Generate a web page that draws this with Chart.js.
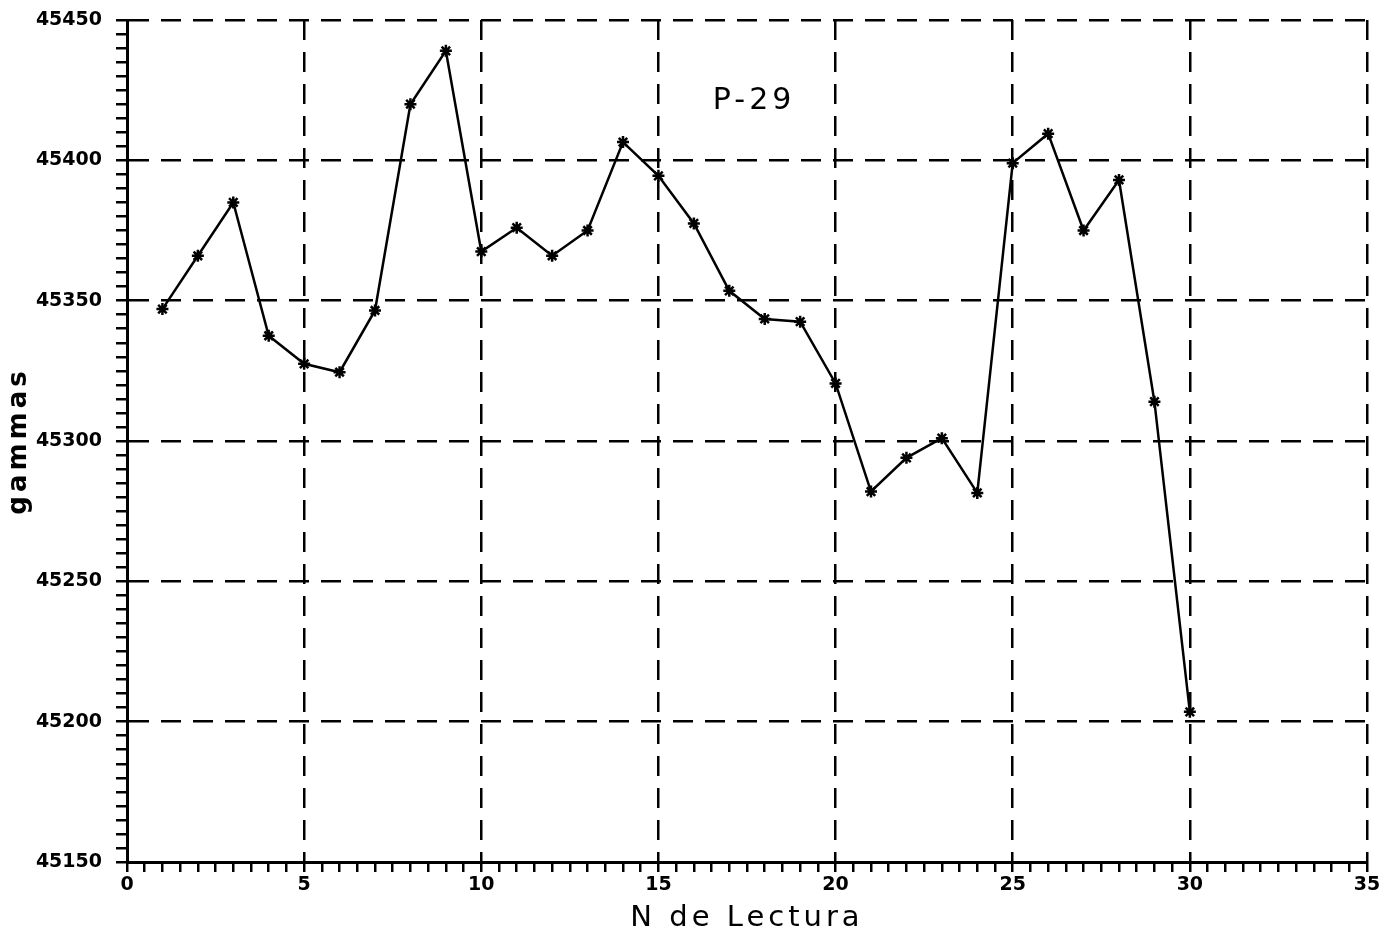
<!DOCTYPE html>
<html>
<head>
<meta charset="utf-8">
<script src="https://cdn.jsdelivr.net/npm/chart.js@4/dist/chart.umd.min.js"></script>
<style>
  html, body { margin: 0; padding: 0; background: #fff; }
  #wrap { width: 1397px; height: 936px; }
</style>
</head>
<body>
<div id="wrap"><canvas id="chart" width="1397" height="936"></canvas></div>
<script>
// reading number (N de Lectura)
const lecturas = [1, 2, 3, 4, 5, 6, 7, 8, 9, 10, 11, 12, 13, 14, 15,
                  16, 17, 18, 19, 20, 21, 22, 23, 24, 25, 26, 27, 28, 29, 30];
// magnetic field, gammas
const gammas = [45347, 45366, 45385, 45337.5, 45327.5, 45324.5, 45346.5, 45420, 45439, 45367.5,
                45376, 45366, 45375, 45406.5, 45394.5, 45377.5, 45353.5, 45343.5, 45342.5, 45320.5,
                45282, 45294, 45301, 45281.5, 45399, 45409.5, 45375, 45393, 45314, 45203.5];

const profileName = 'P-29';
const profileLabelAt = [17.7, 45421];

const xRange = [0, 35];
const yRange = [45150, 45450];
const xTitle = 'N de Lectura';
const yTitle = 'gammas';

const FONT = "'DejaVu Sans', sans-serif";

// plotter style text is spread out; Chart.js has no letter-spacing option
const spacedTitles = {
    id: 'spacedTitles',
    beforeDraw(chart) {
        Object.values(chart.scales).forEach(scale => {
            if (scale._spaced) return;
            const orig = scale.drawTitle;
            scale.drawTitle = function (area) {
                this.ctx.save();
                this.ctx.letterSpacing = '4px';
                orig.call(this, area);
                this.ctx.restore();
            };
            scale._spaced = true;
        });
    }
};

const profileLabel = {
    id: 'profileLabel',
    afterDatasetsDraw(chart) {
        const { ctx, scales } = chart;
        const px = scales.x.getPixelForValue(profileLabelAt[0]);
        const py = scales.y.getPixelForValue(profileLabelAt[1]);
        ctx.save();
        ctx.letterSpacing = '4px';
        ctx.font = `30px ${FONT}`;
        ctx.fillStyle = '#000';
        ctx.textAlign = 'center';
        ctx.textBaseline = 'middle';
        ctx.fillText(profileName, px, py);
        ctx.restore();
    }
};

const gridColor = step => ctx => (ctx.tick && Math.abs(ctx.tick.value % step) < 1e-6) ? '#000' : 'rgba(0,0,0,0)';

new Chart(document.getElementById('chart'), {
    type: 'line',
    data: {
        datasets: [{
            data: lecturas.map((n, i) => ({ x: n, y: gammas[i] })),
            borderColor: '#000',
            backgroundColor: '#000',
            borderWidth: 2.5,
            tension: 0,
            pointStyle: 'star',
            pointRadius: 6,
            pointBorderWidth: 2.5,
            pointBorderColor: '#000'
        }]
    },
    options: {
        responsive: false,
        animation: false,
        layout: { padding: { top: 20, right: 30, left: 0, bottom: 0 } },
        plugins: {
            legend: { display: false },
            tooltip: { enabled: false }
        },
        scales: {
            x: {
                type: 'linear',
                min: xRange[0],
                max: xRange[1],
                afterFit: s => { s.height = 74; },
                ticks: {
                    stepSize: 0.5,
                    autoSkip: false,
                    maxRotation: 0,
                    padding: 2,
                    color: '#000',
                    font: { family: FONT, size: 19, weight: 'bold' },
                    callback: v => (v % 5 === 0 ? v : '')
                },
                grid: {
                    color: gridColor(5),
                    lineWidth: 2.5,
                    tickColor: '#000',
                    tickLength: 10,
                    tickWidth: 2.5
                },
                border: { color: '#000', width: 3, dash: [20, 12] },
                title: {
                    display: true,
                    text: xTitle,
                    color: '#000',
                    font: { family: FONT, size: 29 },
                    padding: { top: 4, bottom: 0 }
                }
            },
            y: {
                type: 'linear',
                min: yRange[0],
                max: yRange[1],
                afterFit: s => { s.width = 127; s.paddingTop = 0; s.paddingBottom = 0; },
                ticks: {
                    stepSize: 5,
                    autoSkip: false,
                    padding: 14,
                    color: '#000',
                    font: { family: FONT, size: 19, weight: 'bold' },
                    callback: v => (v % 50 === 0 ? v : '')
                },
                grid: {
                    color: gridColor(50),
                    lineWidth: 2.5,
                    tickColor: '#000',
                    tickLength: 11,
                    tickWidth: 2.5
                },
                border: { color: '#000', width: 3, dash: [20, 12] },
                title: {
                    display: true,
                    text: yTitle,
                    color: '#000',
                    font: { family: FONT, size: 26, weight: 'bold' },
                    padding: { top: 4, bottom: 0 }
                }
            }
        }
    },
    plugins: [spacedTitles, profileLabel]
});
</script>
</body>
</html>
